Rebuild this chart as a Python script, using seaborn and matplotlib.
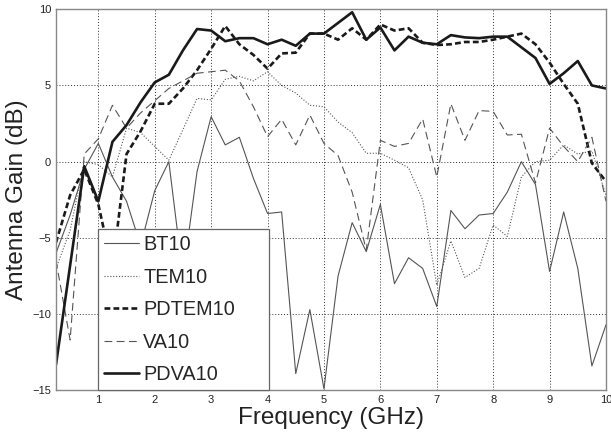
import matplotlib
matplotlib.use("Agg")
import matplotlib.pyplot as plt
import seaborn as sns

# frequency axis (GHz), 0.25 GHz steps
freq = [0.25, 0.5, 0.75, 1.0, 1.25, 1.5, 1.75, 2.0, 2.25, 2.5,
        2.75, 3.0, 3.25, 3.5, 3.75, 4.0, 4.25, 4.5, 4.75, 5.0,
        5.25, 5.5, 5.75, 6.0, 6.25, 6.5, 6.75, 7.0, 7.25, 7.5,
        7.75, 8.0, 8.25, 8.5, 8.75, 9.0, 9.25, 9.5, 9.75, 10.0]

bt10 = [-6.0, -3.5, -0.5, 1.2, -1.0, -2.6, -5.5, -1.9, 0.0, -7.5,
        -0.65, 2.95, 1.1, 1.6, -1.1, -3.4, -3.3, -13.9, -9.7, -14.9,
        -7.5, -4.0, -5.9, -2.8, -8.0, -6.3, -7.0, -9.5, -3.2, -4.4,
        -3.5, -3.4, -2.0, 0.0, -1.5, -7.2, -3.3, -7.0, -13.4, -10.7]

tem10 = [-7.0, -4.5, 0.0, -0.2, -1.0, 2.2, 1.9, 1.0, 0.1, 2.1,
         4.15, 4.05, 5.4, 5.6, 5.3, 5.9, 5.0, 4.5, 3.7, 3.6,
         2.6, 1.9, 0.55, 0.55, 0.1, -0.4, -2.5, -8.1, -5.2, -7.6,
         -7.0, -4.15, -4.9, -1.0, 0.0, 0.1, 1.1, 0.5, 0.7, -2.2]

pdtem10 = [-5.3, -2.2, -0.5, -2.8, -7.0, 0.5, 2.0, 3.8, 3.8, 4.8,
           6.0, 7.4, 8.9, 7.7, 7.0, 6.1, 7.1, 7.15, 8.4, 8.4,
           8.0, 8.75, 8.0, 9.0, 8.6, 8.75, 7.8, 7.65, 7.7, 7.85,
           7.85, 8.0, 8.2, 8.4, 7.7, 6.5, 5.1, 3.8, -0.1, -1.3]

va10 = [-6.5, -11.7, 0.5, 1.5, 3.7, 2.2, 3.2, 4.0, 4.8, 5.3,
        5.8, 5.9, 6.0, 5.3, 3.6, 1.64, 2.78, 1.1, 3.06, 1.2,
        0.4, -2.0, -5.8, 1.4, 1.0, 1.2, 2.8, -1.0, 3.8, 1.4,
        3.35, 3.3, 1.75, 1.8, -1.4, 2.2, 1.0, 0.0, 1.6, -2.6]

pdva10 = [-13.3, -6.8, -0.3, -2.6, 1.3, 2.4, 3.9, 5.2, 5.7, 7.3,
          8.7, 8.6, 7.9, 8.1, 8.1, 7.7, 8.0, 7.6, 8.4, 8.4,
          9.1, 9.8, 8.0, 8.8, 7.3, 8.2, 7.8, 7.7, 8.3, 8.15,
          8.1, 8.2, 8.2, 7.5, 6.8, 5.1, 5.8, 6.6, 5.0, 4.8]

sns.set_style("white")
plt.rcParams['font.family'] = ['Liberation Sans', 'DejaVu Sans']

fig = plt.figure(figsize=(6.11, 4.34), dpi=100)
ax = fig.add_axes([0.0917, 0.1005, 0.9001, 0.8783])

# name, data, colour, width, linestyle
series = [
    ("BT10", bt10, "#555555", 0.8, "-"),
    ("TEM10", tem10, "#555555", 0.8, (0, (1, 1.6))),
    ("PDTEM10", pdtem10, "#1a1a1a", 1.9, (0, (2.2, 1.2))),
    ("VA10", va10, "#555555", 0.8, (0, (7, 4))),
    ("PDVA10", pdva10, "#1a1a1a", 1.9, "-"),
]
for name, vals, col, lw, ls in series:
    sns.lineplot(x=freq, y=vals, ax=ax, color=col, linewidth=lw,
                 linestyle=ls, label=name)

ax.set_xlim(0.25, 10)
ax.set_ylim(-15, 10)
ax.set_xticks(range(1, 11))
ax.set_yticks([-15, -10, -5, 0, 5, 10])
ax.grid(True, color="#333333", linestyle=(0, (1, 2)), linewidth=0.7)
ax.tick_params(direction="in", labelsize=8, length=3, color="#777777",
               colors="#222222")
for s in ax.spines.values():
    s.set_color("#888888")
    s.set_linewidth(1.0)

ax.set_xlabel("Frequency (GHz)", fontsize=17.5, color="#222222", labelpad=1)
ax.set_ylabel("Antenna Gain (dB)", fontsize=17.5, color="#222222", labelpad=3)

# legend box spans x = 1 GHz to about 4 GHz, sitting on the bottom axis
leg = ax.legend(loc="lower left", bbox_to_anchor=(0.077, 0.0, 0.311, 0.3),
                mode="expand", fontsize=14.3, frameon=True, fancybox=False,
                edgecolor="#666666", framealpha=1, handlelength=1.75,
                handletextpad=0.2, labelspacing=0.68, borderpad=0.3,
                borderaxespad=0)
leg.get_frame().set_linewidth(0.9)

fig.savefig("out.png", dpi=100)
